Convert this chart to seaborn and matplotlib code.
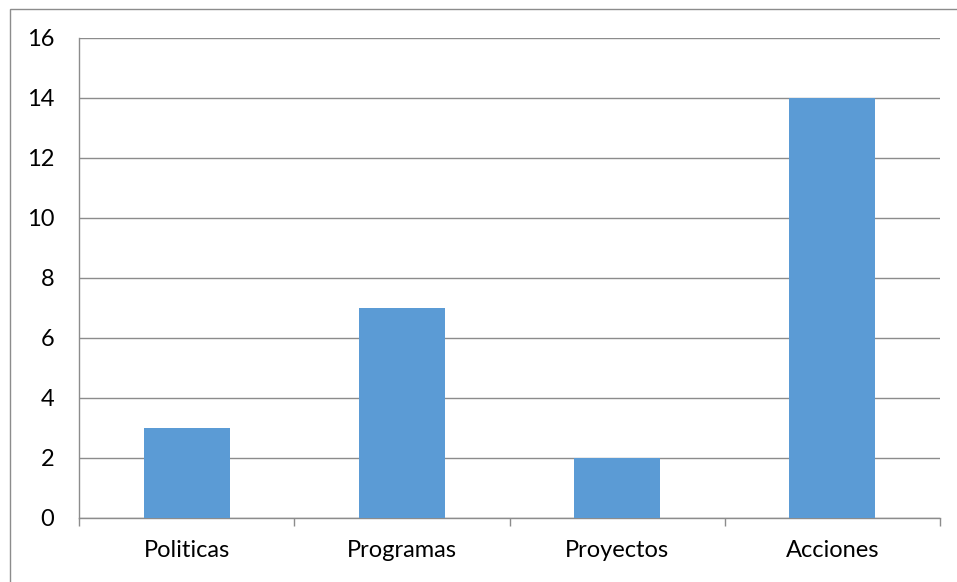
import matplotlib
matplotlib.use("Agg")
import matplotlib.pyplot as plt
from matplotlib.patches import Rectangle
from matplotlib.ticker import FixedLocator
import seaborn as sns
import pandas as pd

categories = ["Politicas", "Programas", "Proyectos", "Acciones"]
values = [3, 7, 2, 14]
y_ticks = [0, 2, 4, 6, 8, 10, 12, 14, 16]

sns.set_theme(style="white")
plt.rcParams["font.family"] = ["Lato", "DejaVu Sans"]

df = pd.DataFrame({"categoria": categories, "valor": values})

fig = plt.figure(figsize=(9.57, 5.82), dpi=100)
ax = fig.add_axes([79 / 957, 1 - 518 / 582, (940 - 79) / 957, (518 - 38) / 582])

grid_color = "#8c8c8c"
sns.barplot(data=df, x="categoria", y="valor", color="#5B9BD5", saturation=1,
            width=0.4, linewidth=0, ax=ax, zorder=3)

ax.set_xlim(-0.5, len(categories) - 0.5)
ax.set_ylim(0, 16)
ax.set_yticks(y_ticks)
ax.set_xlabel("")
ax.set_ylabel("")

ax.yaxis.grid(True, color=grid_color, linewidth=1)
ax.set_axisbelow(True)
for side in ["top", "right"]:
    ax.spines[side].set_visible(False)
for side in ["left", "bottom"]:
    ax.spines[side].set_color(grid_color)
    ax.spines[side].set_linewidth(1)

ax.tick_params(axis="y", length=5.8, width=1, color=grid_color, labelsize=17,
               labelcolor="black", pad=12)
ax.tick_params(axis="x", which="major", length=0, labelsize=17,
               labelcolor="black", pad=16)
ax.xaxis.set_minor_locator(FixedLocator([i - 0.5 for i in range(len(categories) + 1)]))
ax.tick_params(axis="x", which="minor", length=5.8, width=1, color=grid_color,
               direction="out", bottom=True)

fig.patches.append(Rectangle((10 / 957, -0.1), 1.2, 1 - 9 / 582 + 0.1,
                             transform=fig.transFigure, fill=False,
                             edgecolor="#8c8c8c", linewidth=1))

fig.savefig("out.png", dpi=100)
